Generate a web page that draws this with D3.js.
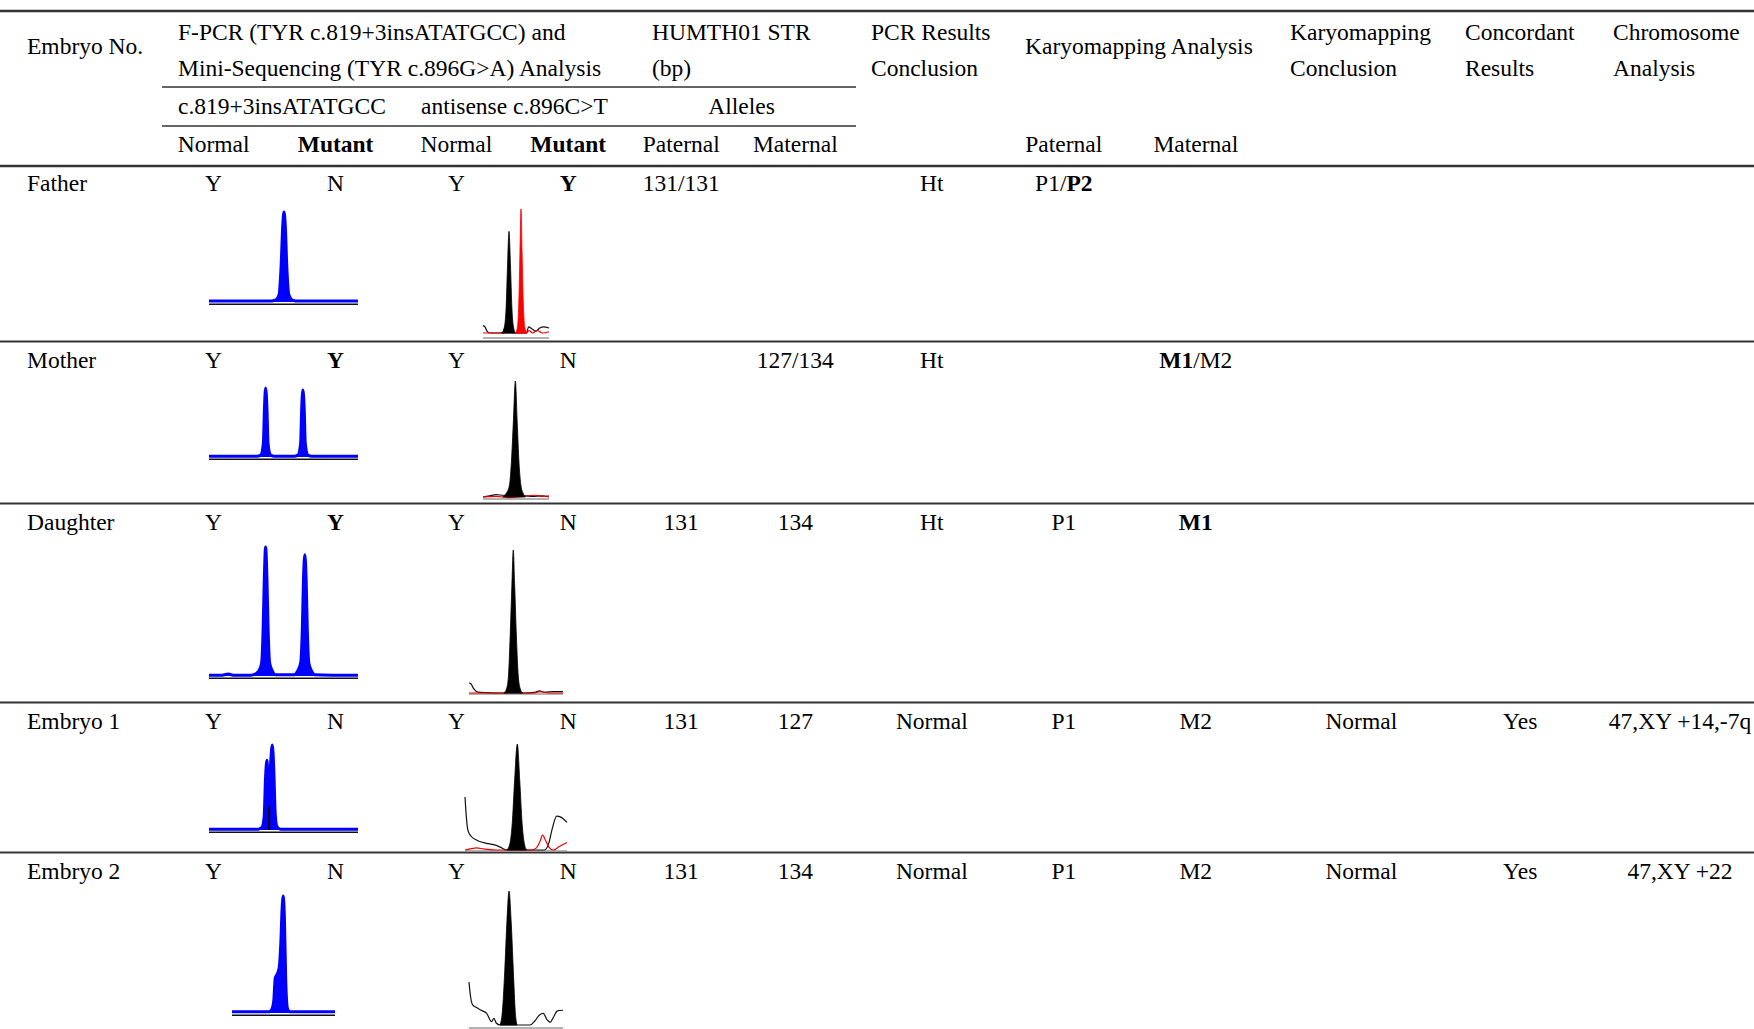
<!DOCTYPE html>
<html>
<head>
<meta charset="utf-8">
<script src="https://cdn.jsdelivr.net/npm/d3@7"></script>
<style>
  html, body { margin: 0; padding: 0; background: #fff; overflow: hidden; }
  #chart text { font-family: "Liberation Serif", "Times New Roman", serif; font-size: 23.5px; fill: #000; }
</style>
</head>
<body>
<div id="chart"></div>
<script>
// ---- table values ----
const headerRow1 = [
    ["Embryo No."],
    ["F-PCR (TYR c.819+3insATATGCC) and", "Mini-Sequencing (TYR c.896G>A) Analysis"],
    ["HUMTH01 STR", "(bp)"],
    ["PCR Results", "Conclusion"],
    ["Karyomapping Analysis"],
    ["Karyomapping", "Conclusion"],
    ["Concordant", "Results"],
    ["Chromosome", "Analysis"]
];
const headerRow2 = ["c.819+3insATATGCC", "antisense c.896C>T", "Alleles"];
const headerRow3 = ["Normal", "Mutant", "Normal", "Mutant", "Paternal", "Maternal", "Paternal", "Maternal"];

const rowLabels = ["Father", "Mother", "Daughter", "Embryo 1", "Embryo 2"];
const fpcrNormal = ["Y", "Y", "Y", "Y", "Y"];
const fpcrMutant = ["N", "Y", "Y", "N", "N"];
const seqNormal = ["Y", "Y", "Y", "Y", "Y"];
const seqMutant = ["Y", "N", "N", "N", "N"];
const strPaternal = ["131/131", "", "131", "131", "131"];
const strMaternal = ["", "127/134", "134", "127", "134"];
const pcrConclusion = ["Ht", "Ht", "Ht", "Normal", "Normal"];
const karyoPaternal = ["P1/P2", "", "P1", "P1", "P1"];
const karyoMaternal = ["", "M1/M2", "M1", "M2", "M2"];
const karyoConclusion = ["", "", "", "Normal", "Normal"];
const concordant = ["", "", "", "Yes", "Yes"];
const chromosome = ["", "", "", "47,XY +14,-7q", "47,XY +22"];
const mutantHaplotypes = ["P2", "M1"];

// ---- electropherogram traces: [position 0-100, signal % of panel] ----
const fpcrFather = [[0,1],[40,1],[44.5,2],[47,8],[48.4,40],[49.5,85],[50.3,100],[51.2,85],[52.2,40],[53.6,8],[56,2],[60,1],[100,1]];
const fpcrMother = [[0,1],[32,1],[34.8,3],[36.5,20],[37.2,70],[38,100],[38.9,70],[39.6,20],[41.3,3],[44,1],[57,1],[59.8,3],[61.5,20],[62.2,70],[63,97],[63.9,70],[64.6,20],[66.3,3],[69,1],[100,1]];
const fpcrDaughter = [[0,0.5],[8,0.5],[12.8,1.5],[17,0.5],[28,0.5],[31,1.5],[33.5,4],[35.3,10],[36.3,35],[37.1,75],[38,100],[38.9,75],[39.7,35],[40.7,10],[42.5,4],[44.5,1],[57,1],[59.5,4],[61.5,10],[62.6,35],[63.4,75],[64.3,94],[65.2,75],[66,35],[67,10],[68.8,4],[71,1],[100,0.5]];
const fpcrEmbryo1 = [[0,1],[33,1],[35.5,3],[37,15],[37.9,60],[38.9,82],[39.7,55],[40.5,50],[41.4,80],[42.5,100],[43.5,70],[44.4,20],[45.6,4],[48,1],[100,1]];
const fpcrEmbryo1Marker = [[40.3,0],[40.3,28]];
const fpcrEmbryo2 = [[0,1],[36,1],[38.6,3],[40.5,10],[42,30],[44.3,34],[46,40],[47.4,60],[48.7,90],[49.8,100],[50.9,80],[52.1,30],[53.8,4],[56,1],[100,1]];

const miniFatherBlack = [[28,0],[32,4],[35,20],[37.2,55],[39.4,82],[41.6,55],[43.8,20],[46.5,4],[49,0]];
const miniFatherRed = [[49,0],[52,4],[54.3,25],[56,65],[57.6,100],[59.2,65],[61,25],[63.5,4],[67,0]];
const miniFatherNoise = [[0,6],[3,5],[6,1.5],[10,0],[28,0],[66,0],[69,5],[74,3.5],[80,1.5],[86,4],[92,5],[100,4]];
const miniFatherRedNoise = [[0,0],[33,0],[36,4],[39.4,6],[42,4],[45,0],[66,0],[70,2],[75,0],[82,2],[90,0],[100,1]];

const miniMotherBlack = [[30,0],[35,3],[40,10],[43,30],[46,65],[49,100],[51.8,65],[54.5,30],[57.5,10],[61,3],[64,0]];
const miniMotherNoise = [[0,0],[10,1],[20,2],[30,1.5],[64,1],[75,0.5],[90,1],[100,0]];
const miniMotherRedNoise = [[0,0],[20,0.5],[40,-0.5],[60,0.5],[80,1.5],[90,0.5],[100,1]];

const miniDaughterBlack = [[37,0],[40,3],[42,12],[43.8,40],[45.6,75],[47.1,100],[48.6,75],[50.4,40],[52.4,12],[54.5,3],[57,0]];
const miniDaughterNoise = [[0,7],[2,6.5],[5,3],[8,1],[12,0.5],[37,0],[57,0],[70,0.5],[75,1.5],[80,0.5],[90,1],[100,1]];
const miniDaughterRedNoise = [[0,0],[40,0],[47,2],[54,0],[70,0],[75,1],[85,0],[100,0]];

const miniEmbryo1Black = [[41,0],[44,6],[46.3,25],[48.6,65],[51.3,100],[53.7,65],[56,25],[58.2,6],[60.5,0]];
const miniEmbryo1Noise = [[0,50],[1,35],[3,18],[6.5,12.5],[12,9],[21,6.3],[28,5],[34,3],[41,0],[60.5,0],[78,0],[82,6],[85.5,20],[89.9,32],[94,31],[100,26]];
const miniEmbryo1RedNoise = [[0,0],[5,1],[11.4,2],[18,1],[30,0],[65,0],[70,2],[73.5,8],[76.1,14],[79,9],[82,3],[86.6,0],[92,3],[100,7]];

const miniEmbryo2Black = [[33,0],[35.5,10],[38,40],[40.4,78],[42.6,100],[44.8,78],[47.2,40],[49.2,10],[51,0]];
const miniEmbryo2Noise = [[0,32],[1.5,22],[3.9,15],[8,13],[13,11],[18.8,8.7],[24,2.5],[26.5,5],[29,1.5],[33,0],[51,0],[64.9,0],[70,3],[75,7.5],[79,8.7],[83,4],[86.3,2],[90,6],[94,10.5],[100,11]];

// ---- layout ----
const width = 1754, height = 1029;
const colX = [27, 213.6, 335.6, 456.4, 568.2, 681.2, 795.3, 931.8, 1063.8, 1195.8, 1361.3, 1520.2, 1680];
const rowY = [183.5, 360, 522.5, 721.5, 871.5];
const rowRules = [341.5, 503.5, 702.5, 852.5];

const fpcrBoxes = [
    { x0: 209, x1: 358, base: 302, h: 90 },
    { x0: 209, x1: 358, base: 457, h: 69 },
    { x0: 209, x1: 358, base: 676, h: 129 },
    { x0: 209, x1: 358, base: 830, h: 85 },
    { x0: 232, x1: 335, base: 1013, h: 117 }
];
const miniBoxes = [
    { x0: 483, x1: 549, base: 333, h: 124, axis: 5 },
    { x0: 483, x1: 549, base: 497, h: 116, axis: 2 },
    { x0: 469, x1: 563, base: 693, h: 143, axis: 1 },
    { x0: 465, x1: 567, base: 850, h: 106, axis: 1 },
    { x0: 469, x1: 563, base: 1025, h: 134, axis: 3 }
];

const fpcrTraces = [fpcrFather, fpcrMother, fpcrDaughter, fpcrEmbryo1, fpcrEmbryo2];
const miniPeaks = [
    [[miniFatherBlack, "#000"], [miniFatherRed, "#f00"]],
    [[miniMotherBlack, "#000"]],
    [[miniDaughterBlack, "#000"]],
    [[miniEmbryo1Black, "#000"]],
    [[miniEmbryo2Black, "#000"]]
];
const miniLines = [
    [[miniFatherNoise, "#111"], [miniFatherRedNoise, "#e00"]],
    [[miniMotherNoise, "#111"], [miniMotherRedNoise, "#e00"]],
    [[miniDaughterNoise, "#111"], [miniDaughterRedNoise, "#e00"]],
    [[miniEmbryo1Noise, "#111"], [miniEmbryo1RedNoise, "#e00"]],
    [[miniEmbryo2Noise, "#111"]]
];

const svg = d3.select('#chart').append('svg')
    .attr('width', width)
    .attr('height', height);

svg.append('rect').attr('width', width).attr('height', height).attr('fill', '#fff');

// rules
const rule = (y, x0, x1, w) => svg.append('line')
    .attr('x1', x0).attr('x2', x1).attr('y1', y).attr('y2', y)
    .attr('stroke', '#333').attr('stroke-width', w);

rule(11, 0, width, 2.5);
rule(87, 162, 856, 1.5);
rule(126, 162, 856, 1.5);
rule(166, 0, width, 2.5);
rowRules.forEach(y => rule(y, 0, width, 2));

// text helper
const addText = (x, y, str, anchor, bold) => svg.append('text')
    .attr('x', x).attr('y', y)
    .attr('dy', '0.33em')
    .attr('text-anchor', anchor || 'start')
    .attr('font-weight', bold ? 'bold' : 'normal')
    .text(str);

// header
const headerX = [27, 178, 652, 871, 1025, 1290, 1465, 1613];
headerRow1.forEach((lines, i) => {
    if (lines.length === 1) {
        addText(headerX[i], 46, lines[0]);
    } else {
        lines.forEach((s, j) => addText(headerX[i], j === 0 ? 32 : 68, s));
    }
});
addText(178, 106, headerRow2[0]);
addText(421, 106, headerRow2[1]);
addText(741.6, 106, headerRow2[2], 'middle');

const row3Cols = [1, 2, 3, 4, 5, 6, 8, 9];
headerRow3.forEach((s, i) => addText(colX[row3Cols[i]], 144, s, 'middle', s === 'Mutant'));

// body text
const haplotypeText = (x, y, str) => {
    const t = addText(x, y, '', 'middle');
    str.split('/').forEach((part, k) => {
        if (k > 0) t.append('tspan').text('/');
        t.append('tspan')
            .attr('font-weight', mutantHaplotypes.includes(part) ? 'bold' : 'normal')
            .text(part);
    });
};

rowLabels.forEach((label, r) => {
    const y = rowY[r];
    addText(colX[0], y, label);
    addText(colX[1], y, fpcrNormal[r], 'middle');
    addText(colX[2], y, fpcrMutant[r], 'middle', fpcrMutant[r] === 'Y');
    addText(colX[3], y, seqNormal[r], 'middle');
    addText(colX[4], y, seqMutant[r], 'middle', seqMutant[r] === 'Y');
    addText(colX[5], y, strPaternal[r], 'middle');
    addText(colX[6], y, strMaternal[r], 'middle');
    addText(colX[7], y, pcrConclusion[r], 'middle');
    haplotypeText(colX[8], y, karyoPaternal[r]);
    haplotypeText(colX[9], y, karyoMaternal[r]);
    addText(colX[10], y, karyoConclusion[r], 'middle');
    addText(colX[11], y, concordant[r], 'middle');
    addText(colX[12], y, chromosome[r], 'middle');
});

// electropherograms
const panelScales = b => {
    const x = d3.scaleLinear().domain([0, 100]).range([b.x0, b.x1]);
    const y = d3.scaleLinear().domain([0, 100]).range([b.base, b.base - b.h]);
    return { x, y };
};

fpcrTraces.forEach((trace, r) => {
    const b = fpcrBoxes[r];
    const { x, y } = panelScales(b);
    const g = svg.append('g');

    g.append('line')
        .attr('x1', x(0)).attr('x2', x(100))
        .attr('y1', y(0) + 2.2).attr('y2', y(0) + 2.2)
        .attr('stroke', '#111').attr('stroke-width', 1.6);

    const area = d3.area()
        .curve(d3.curveMonotoneX)
        .x(d => x(d[0]))
        .y0(y(0))
        .y1(d => y(d[1]));
    const line = d3.line()
        .curve(d3.curveMonotoneX)
        .x(d => x(d[0]))
        .y(d => y(d[1]));

    g.append('path').datum(trace)
        .attr('fill', '#0000ff')
        .attr('d', area);
    g.append('path').datum(trace)
        .attr('fill', 'none')
        .attr('stroke', '#0000ff')
        .attr('stroke-width', 3)
        .attr('d', line);

    if (r === 3) {
        g.append('path').datum(fpcrEmbryo1Marker)
            .attr('fill', 'none')
            .attr('stroke', '#000')
            .attr('stroke-width', 2)
            .attr('d', d3.line().x(d => x(d[0])).y(d => y(d[1])));
    }
});

miniBoxes.forEach((b, r) => {
    const { x, y } = panelScales(b);
    const g = svg.append('g');

    g.append('line')
        .attr('x1', x(0)).attr('x2', x(100))
        .attr('y1', y(0) + b.axis).attr('y2', y(0) + b.axis)
        .attr('stroke', '#9a9a9a').attr('stroke-width', 1.5);

    const area = d3.area()
        .curve(d3.curveMonotoneX)
        .x(d => x(d[0]))
        .y0(y(0))
        .y1(d => y(d[1]));
    const line = d3.line()
        .curve(d3.curveMonotoneX)
        .x(d => x(d[0]))
        .y(d => y(d[1]));

    miniLines[r].forEach(([data, color]) => {
        g.append('path').datum(data)
            .attr('fill', 'none')
            .attr('stroke', color)
            .attr('stroke-width', 1.2)
            .attr('d', line);
    });
    miniPeaks[r].forEach(([data, color]) => {
        g.append('path').datum(data)
            .attr('fill', color)
            .attr('stroke', color)
            .attr('stroke-width', 0.8)
            .attr('d', area);
    });
});
</script>
</body>
</html>
